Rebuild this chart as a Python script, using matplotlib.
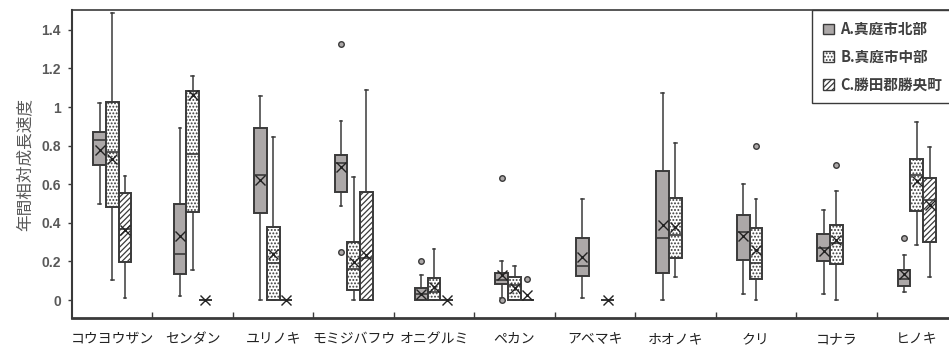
import numpy as np
import matplotlib
matplotlib.use("Agg")
import matplotlib.pyplot as plt
from matplotlib.patches import Patch

plt.rcParams['font.family'] = ['Noto Sans CJK JP', 'DejaVu Sans']
plt.rcParams['hatch.linewidth'] = 0.9

### データ

species = ['コウヨウザン', 'センダン', 'ユリノキ', 'モミジバフウ', 'オニグルミ', 'ペカン',
           'アベマキ', 'ホオノキ', 'クリ', 'コナラ', 'ヒノキ']
series = ['A.真庭市北部', 'B.真庭市中部', 'C.勝田郡勝央町']
nan = np.nan

# A.真庭市北部
A_lo   = [0.50, 0.02, 0.00, 0.49, 0.00, 0.01, 0.01, 0.00, 0.03, 0.03, 0.04]
A_q1   = [0.70, 0.135, 0.45, 0.56, 0.00, 0.083, 0.127, 0.14, 0.21, 0.20, 0.075]
A_med  = [0.83, 0.24, 0.65, 0.71, 0.03, 0.104, 0.174, 0.32, 0.355, 0.27, 0.11]
A_q3   = [0.87, 0.50, 0.89, 0.75, 0.06, 0.14, 0.32, 0.67, 0.44, 0.34, 0.155]
A_hi   = [1.02, 0.89, 1.055, 0.93, 0.13, 0.20, 0.525, 1.075, 0.60, 0.465, 0.235]
A_mean = [0.78, 0.33, 0.62, 0.69, 0.03, 0.13, 0.225, 0.39, 0.33, 0.255, 0.135]
A_out  = [[], [], [], [1.325, 0.25], [0.20], [0.63, 0.0], [], [], [], [], [0.32]]

# B.真庭市中部
B_lo   = [0.105, 0.155, 0.00, 0.00, 0.00, 0.00, nan, 0.12, 0.00, 0.00, 0.285]
B_q1   = [0.48, 0.455, 0.00, 0.05, 0.00, 0.00, nan, 0.22, 0.11, 0.185, 0.46]
B_med  = [0.765, 0.755, 0.19, 0.16, 0.04, 0.08, nan, 0.335, 0.19, 0.295, 0.65]
B_q3   = [1.025, 1.085, 0.38, 0.30, 0.115, 0.12, nan, 0.53, 0.375, 0.39, 0.73]
B_hi   = [1.485, 1.16, 0.845, 0.64, 0.265, 0.175, nan, 0.815, 0.525, 0.565, 0.925]
B_mean = [0.73, 1.065, 0.24, 0.195, 0.07, 0.06, nan, 0.38, 0.26, 0.31, 0.615]
B_out  = [[], [], [], [], [], [], [], [], [0.80], [0.70], []]

# C.勝田郡勝央町
C_lo   = [0.01, 0.0, 0.0, 0.0, 0.0, 0.0, 0.0, nan, nan, nan, 0.12]
C_q1   = [0.195, 0.0, 0.0, 0.0, 0.0, 0.0, 0.0, nan, nan, nan, 0.30]
C_med  = [0.37, 0.0, 0.0, 0.22, 0.0, 0.0, 0.0, nan, nan, nan, 0.52]
C_q3   = [0.555, 0.0, 0.0, 0.56, 0.0, 0.0, 0.0, nan, nan, nan, 0.635]
C_hi   = [0.645, 0.0, 0.0, 1.09, 0.0, 0.0, 0.0, nan, nan, nan, 0.795]
C_mean = [0.365, 0.0, 0.0, 0.235, 0.0, 0.026, 0.0, nan, nan, nan, 0.495]
C_out  = [[], [], [], [], [], [0.11], [], [], [], [], []]

### スタイル

edge = '#3a3a3a'
styles = [dict(facecolor='#aca8a8', hatch=None),
          dict(facecolor='white', hatch='.....'),
          dict(facecolor='white', hatch='//////')]
width = 0.158
offsets = [-width, 0.0, width]

fig = plt.figure(figsize=(9.49, 3.49), dpi=100)
ax = fig.add_axes([0.0759, 0.0888, 0.9326, 0.8825])

groups = [(A_lo, A_q1, A_med, A_q3, A_hi, A_mean, A_out),
          (B_lo, B_q1, B_med, B_q3, B_hi, B_mean, B_out),
          (C_lo, C_q1, C_med, C_q3, C_hi, C_mean, C_out)]

for k, (lo, q1, med, q3, hi, mean, out) in enumerate(groups):
    stats, pos = [], []
    for i in range(len(species)):
        if np.isnan(med[i]):
            continue
        stats.append(dict(whislo=lo[i], q1=q1[i], med=med[i], q3=q3[i],
                          whishi=hi[i], mean=mean[i], fliers=out[i]))
        pos.append(i + offsets[k])
    bp = ax.bxp(stats, positions=pos, widths=width, capwidths=0.035,
                patch_artist=True, showmeans=True, manage_ticks=False,
                boxprops=dict(facecolor=styles[k]['facecolor'], edgecolor=edge,
                              hatch=styles[k]['hatch'], linewidth=1.4),
                whiskerprops=dict(color=edge, linewidth=1.1),
                capprops=dict(color=edge, linewidth=1.1),
                medianprops=dict(color=edge, linewidth=1.2),
                meanprops=dict(marker='x', markersize=7.5, markeredgecolor='#222222',
                               markeredgewidth=1.0),
                flierprops=dict(marker='o', markersize=4, markerfacecolor='#aca8a8',
                                markeredgecolor=edge, markeredgewidth=1.0))

### 軸

ax.set_xlim(-0.5, 10.5)
ax.set_ylim(-0.093, 1.503)
ax.set_yticks(np.arange(0, 1.41, 0.2))
ax.set_yticklabels(['0', '0.2', '0.4', '0.6', '0.8', '1', '1.2', '1.4'],
                   family='Liberation Sans', fontweight='bold', fontsize=10, color='#595959')
ax.tick_params(axis='y', direction='out', length=3, width=1, color=edge, pad=5)
ax.set_xticks(range(len(species)))
ax.set_xticklabels(species, fontsize=10, color='#222222')
ax.set_xticks(np.arange(0.5, 10.6, 1.0), minor=True)
ax.tick_params(axis='x', which='major', length=0, pad=10)
ax.tick_params(axis='x', which='minor', direction='in', length=4, width=1, color=edge)
ax.spines['left'].set_linewidth(1.5)
ax.spines['bottom'].set_linewidth(2.0)
ax.spines['top'].set_linewidth(1.2)
for s in ax.spines.values():
    s.set_color(edge)

ax.set_ylabel('年間相対成長速度', fontsize=12, color='#595959', labelpad=6)

handles = [Patch(facecolor=s['facecolor'], edgecolor=edge, hatch=s['hatch'], linewidth=1.0)
           for s in styles]
leg = fig.legend(handles, series, loc='upper left', bbox_to_anchor=(812 / 949, 1 - 10 / 349),
                 fancybox=False, edgecolor=edge, framealpha=1, handlelength=0.75,
                 handleheight=0.75, handletextpad=0.45, labelspacing=0.8,
                 borderpad=0.75, borderaxespad=0, prop=dict(weight='bold', size=10.5))
leg.get_frame().set_linewidth(1.0)
for t in leg.get_texts():
    t.set_color('#404040')

fig.savefig('out.png', dpi=100)
